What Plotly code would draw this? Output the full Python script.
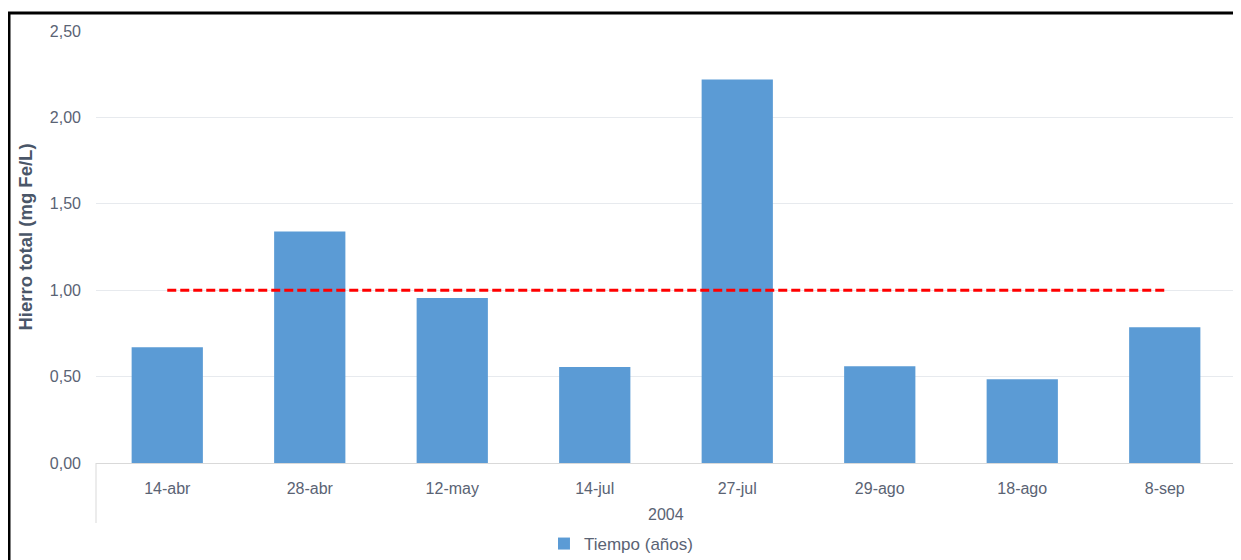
import plotly.graph_objects as go

categories = ["14-abr", "28-abr", "12-may", "14-jul", "27-jul", "29-ago", "18-ago", "8-sep"]
group_label = "2004"
iron_values = [0.67, 1.34, 0.955, 0.555, 2.22, 0.56, 0.485, 0.785]
limit_values = [1.0] * 8
y_ticks = [0, 0.5, 1.0, 1.5, 2.0, 2.5]
y_tick_text = ["0,00", "0,50", "1,00", "1,50", "2,00", "2,50"]
y_title = "Hierro total (mg Fe/L)"

fig = go.Figure()
fig.add_trace(go.Bar(
    x=categories, y=iron_values, name="Tiempo (años)",
    marker=dict(color="#5b9bd5", line=dict(width=0)),
))
fig.add_trace(go.Scatter(
    x=categories, y=limit_values, mode="lines", showlegend=False,
    line=dict(color="#ff0000", width=3, dash="9px,4px"),
))

txt = "#5a6374"
W, H = 1233, 552
L, R, T, B = 88, 5, 23, 97
pw, ph = W - L - R, H - T - B

fig.update_layout(
    width=W, height=H,
    margin=dict(l=L, r=R, t=T, b=B, autoexpand=False),
    paper_bgcolor="white", plot_bgcolor="white",
    font=dict(family="Liberation Sans, Arial, sans-serif", size=16, color=txt),
    bargap=0.5,
    showlegend=True,
    legend=dict(orientation="h", x=0.4605, xanchor="center", y=-81 / ph, yanchor="middle",
                font=dict(size=17, color=txt)),
    xaxis=dict(type="category", showgrid=False, showline=True, linecolor="#d9d9d9",
               linewidth=1, ticks="", automargin=False, ticklabelstandoff=11,
               tickfont=dict(size=16, color=txt)),
    yaxis=dict(range=[0, 2.5], tickvals=y_ticks, ticktext=y_tick_text,
               showgrid=True, gridcolor="#e7eaee", gridwidth=1, zeroline=False,
               showline=False, ticks="", automargin=False, ticklabelstandoff=14,
               tickfont=dict(size=16, color=txt)),
    annotations=[
        dict(text=group_label, xref="paper", yref="paper", x=0.5, y=-51 / ph,
             xanchor="center", yanchor="middle", showarrow=False,
             font=dict(size=16, color=txt)),
        dict(text="<b>" + y_title + "</b>", xref="paper", yref="paper",
             x=(17 - L) / pw, y=(ph + T - 229.5) / ph, textangle=-90,
             xanchor="center", yanchor="middle", showarrow=False,
             font=dict(size=18.5, color="#4a5668")),
    ],
    shapes=[
        dict(type="line", xref="paper", yref="paper", x0=0, x1=0, y0=0, y1=-60 / ph,
             line=dict(color="#d9d9d9", width=1)),
        dict(type="line", xref="paper", yref="paper", x0=1, x1=1, y0=0, y1=-60 / ph,
             line=dict(color="#d9d9d9", width=1)),
        dict(type="rect", xref="paper", yref="paper",
             x0=(1 - L) / pw, x1=1.2, y0=-0.6, y1=(ph + T - 5) / ph,
             line=dict(color="black", width=3), fillcolor="rgba(0,0,0,0)", layer="above"),
    ],
)

fig.write_html("out.html")
